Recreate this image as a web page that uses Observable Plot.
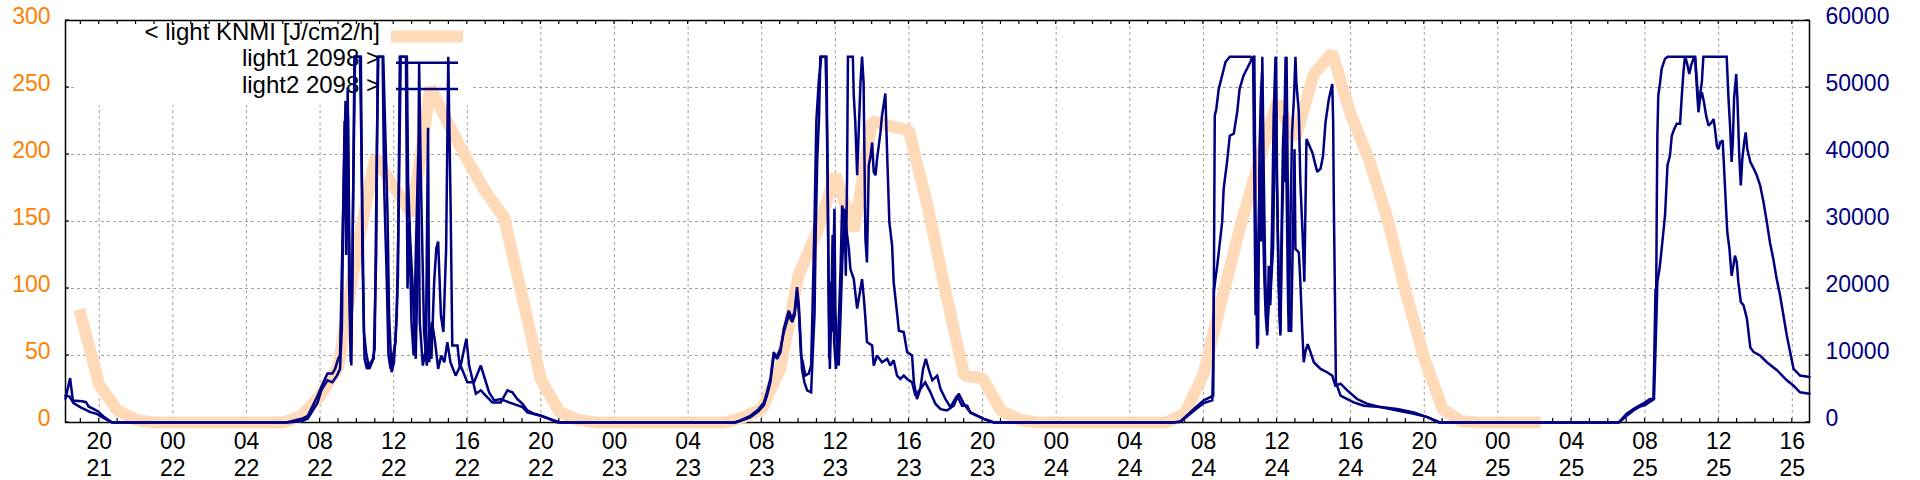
<!DOCTYPE html>
<html><head><meta charset="utf-8">
<script src="https://cdn.jsdelivr.net/npm/d3@7"></script>
<script src="https://cdn.jsdelivr.net/npm/@observablehq/plot@0.6"></script>
<style>body{margin:0;background:#fff}svg{display:block}</style>
</head><body><div id="chart"></div>
<script>
const parse = d3.utcParse("%d %H:%M");

// x extent of the plot and its tick labels (hour / day)
const xDomain = ["21 18:10", "25 16:56"];
const yTicksLeft = [0, 50, 100, 150, 200, 250, 300];
const rightPerLeft = 200; // 60000 / 300

// KNMI light, hourly from 21 19:00 [J/cm2/h]
const knmiStart = "21 19:00";
const knmiValues = [
  80, 28, 9, 2, 0,
  0, 0, 0, 0, 0, 0, 0, 5, 20, 42, 128, 198, 176, 155, 250, 222, 196, 172, 153, 93, 32, 8, 2, 0,
  0, 0, 0, 0, 0, 0, 0, 4, 10, 40, 110, 142, 185, 143, 225, 221, 218, 162, 97, 35, 33, 9, 2, 0,
  0, 0, 0, 0, 0, 0, 0, 7, 36, 92, 146, 194, 239, 212, 260, 276, 230, 196, 152, 97, 48, 10, 1, 0,
  0, 0, 0
];

const light1 = [
  ["21 18:10",3530],["21 18:25",6620],["21 18:34",3280],["21 19:04",3180],["21 19:17",3030],["21 19:25",2390],["21 19:47",1890],["21 19:55",1690],["21 20:14",900],["21 20:41",50],["21 20:50",0],
  ["22 06:10",0],["22 07:00",550],["22 07:20",1000],["22 07:52",4000],["22 08:04",5300],["22 08:24",7300],["22 08:40",7300],["22 08:49",8000],["22 08:59",9500],["22 09:05",10000],["22 09:13",27000],["22 09:18",38000],["22 09:23",48000],["22 09:27",38000],["22 09:31",46000],["22 09:38",16000],["22 09:42",8500],["22 09:47",31000],["22 09:54",54600],["22 10:10",54600],["22 10:16",38000],["22 10:23",13500],["22 10:30",10500],["22 10:40",8000],["22 10:50",9000],["22 10:58",11000],["22 11:05",41000],["22 11:10",54600],["22 11:26",54600],["22 11:31",46000],["22 11:40",31000],["22 11:45",16000],["22 11:53",7500],["22 12:01",9000],["22 12:10",16000],["22 12:16",31000],["22 12:23",54600],["22 12:43",54600],["22 12:47",36000],["22 12:53",28000],["22 13:01",21000],["22 13:12",9500],["22 13:17",21000],["22 13:23",53500],["22 13:28",38000],["22 13:39",13500],["22 13:48",8500],["22 13:55",13500],["22 14:03",9500],["22 14:12",21000],["22 14:19",26000],["22 14:25",27000],["22 14:34",16000],["22 14:42",13500],["22 14:51",26000],["22 14:58",54600],["22 15:06",31000],["22 15:11",11500],["22 15:28",11500],["22 15:36",8000],["22 15:50",11000],["22 15:57",12500],["22 16:06",8500],["22 16:28",4300],["22 16:44",4800],["22 17:00",4000],["22 17:22",3000],["22 17:49",3000],["22 18:11",4800],["22 18:27",4500],["22 18:43",3500],["22 19:00",2800],["22 19:16",1800],["22 19:38",1300],["22 20:00",1000],["22 20:27",550],["22 20:54",0],
  ["23 06:30",0],["23 06:50",300],["23 07:23",1000],["23 07:50",2000],["23 08:07",3000],["23 08:17",4500],["23 08:28",6500],["23 08:39",10500],["23 08:50",9500],["23 09:01",10500],["23 09:12",14000],["23 09:28",16700],["23 09:39",15500],["23 09:47",16500],["23 09:55",20200],["23 10:01",17500],["23 10:08",11000],["23 10:11",8000],["23 10:19",6000],["23 10:28",4800],["23 10:41",4500],["23 10:47",11000],["23 10:52",16000],["23 10:56",28400],["23 11:01",39400],["23 11:07",45800],["23 11:11",54600],["23 11:28",54600],["23 11:31",48800],["23 11:35",35900],["23 11:40",9500],["23 11:44",21000],["23 11:49",13500],["23 11:57",31900],["23 12:00",17000],["23 12:05",11000],["23 12:11",8500],["23 12:17",16000],["23 12:22",23400],["23 12:30",31900],["23 12:34",21900],["23 12:38",35900],["23 12:41",54600],["23 12:57",54600],["23 13:00",48800],["23 13:05",44800],["23 13:11",36900],["23 13:16",43300],["23 13:22",50800],["23 13:27",54600],["23 13:32",50800],["23 13:38",27400],["23 13:43",23900],["23 13:47",33400],["23 13:49",38400],["23 13:55",39800],["23 14:00",41800],["23 14:05",37400],["23 14:11",36900],["23 14:16",39400],["23 14:27",43300],["23 14:32",45800],["23 14:38",47600],["23 14:43",49100],["23 14:49",39800],["23 14:56",29900],["23 15:05",26400],["23 15:10",21000],["23 15:22",16000],["23 15:27",13700],["23 15:43",13500],["23 15:54",10500],["23 16:10",10000],["23 16:16",6000],["23 16:26",3500],["23 16:37",5000],["23 16:46",8000],["23 16:55",9500],["23 17:05",7800],["23 17:16",6300],["23 17:32",7000],["23 17:43",5000],["23 17:59",3500],["23 18:15",2300],["23 18:37",4000],["23 18:53",2500],["23 19:10",2500],["23 19:20",1500],["23 20:04",550],["23 20:37",0],
  ["24 06:20",0],["24 06:45",150],["24 07:28",2000],["24 08:01",3300],["24 08:32",4000],["24 08:34",20000],["24 08:37",45800],["24 08:42",46800],["24 08:50",49800],["24 09:01",51800],["24 09:12",53800],["24 09:26",54600],["24 10:33",54600],["24 10:42",54000],["24 10:46",35900],["24 10:50",16000],["24 10:55",26000],["24 10:58",11500],["24 11:03",40800],["24 11:07",48300],["24 11:11",52300],["24 11:15",28400],["24 11:19",21000],["24 11:23",16000],["24 11:28",13000],["24 11:33",23400],["24 11:38",17500],["24 11:44",29900],["24 11:49",45800],["24 11:55",54600],["24 11:58",40800],["24 12:02",29900],["24 12:08",16000],["24 12:11",13000],["24 12:17",30900],["24 12:22",39900],["24 12:28",54600],["24 12:31",35900],["24 12:35",21000],["24 12:38",13500],["24 12:44",30900],["24 12:49",43300],["24 12:55",48300],["24 13:00",54600],["24 13:03",50800],["24 13:11",46300],["24 13:16",35900],["24 13:23",28400],["24 13:29",21000],["24 13:36",42300],["24 13:55",40300],["24 14:11",37400],["24 14:22",37900],["24 14:30",39800],["24 14:38",44800],["24 14:49",48300],["24 15:00",50500],["24 15:03",44800],["24 15:05",33400],["24 15:08",21900],["24 15:12",6000],["24 15:27",4000],["24 15:49",3500],["24 16:10",3000],["24 16:43",2500],["24 17:37",2300],["24 18:32",2000],["24 19:26",1500],["24 20:10",800],["24 20:42",150],["24 20:50",0],
  ["25 06:33",0],["25 07:00",1300],["25 07:22",2000],["25 07:44",2600],["25 08:00",3000],["25 08:16",3500],["25 08:27",3500],["25 08:30",10000],["25 08:34",20000],["25 08:36",18000],["25 08:38",31900],["25 08:40",42800],["25 08:43",48800],["25 08:49",50800],["25 08:54",52800],["25 09:05",54300],["25 09:14",54600],["25 10:43",54600],["25 10:49",49800],["25 10:54",46300],["25 10:59",48300],["25 11:05",49300],["25 11:12",47800],["25 11:19",45800],["25 11:27",44300],["25 11:37",44800],["25 11:43",45300],["25 11:48",43800],["25 11:54",41300],["25 11:59",40800],["25 12:05",41800],["25 12:13",42100],["25 12:17",38400],["25 12:24",31900],["25 12:28",28400],["25 12:35",25900],["25 12:42",21900],["25 12:48",23400],["25 12:53",24900],["25 12:59",23900],["25 13:04",20900],["25 13:12",18000],["25 13:21",17500],["25 13:32",15500],["25 13:43",11200],["25 13:54",10500],["25 14:15",10000],["25 14:37",9000],["25 15:10",7800],["25 15:42",6300],["25 16:04",5500],["25 16:25",4500],["25 16:56",4300]
];

const light2 = [
  ["21 18:10",4030],["21 18:23",3880],["21 18:36",2890],["21 18:58",2290],["21 19:31",1540],["21 19:52",1290],["21 20:14",700],["21 20:41",0],
  ["22 06:15",0],["22 07:00",200],["22 07:20",600],["22 07:52",3000],["22 08:04",4800],["22 08:24",6300],["22 08:40",6000],["22 08:55",7000],["22 09:05",8000],["22 09:11",14000],["22 09:15",30000],["22 09:20",45000],["22 09:25",25000],["22 09:30",50000],["22 09:35",20000],["22 09:40",9000],["22 09:45",20000],["22 09:52",54600],["22 10:13",54600],["22 10:18",25000],["22 10:25",9500],["22 10:33",8000],["22 10:45",9000],["22 10:55",9500],["22 11:03",25000],["22 11:08",54600],["22 11:24",54600],["22 11:29",35000],["22 11:37",22000],["22 11:43",10000],["22 11:50",8000],["22 11:58",10000],["22 12:06",12000],["22 12:14",22000],["22 12:20",54600],["22 12:40",54600],["22 12:45",20000],["22 12:51",30000],["22 12:58",15000],["22 13:05",10000],["22 13:12",25000],["22 13:20",40000],["22 13:25",15000],["22 13:35",8500],["22 13:45",11000],["22 13:49",30000],["22 13:52",44000],["22 13:56",9000],["22 14:05",15000],["22 14:15",12000],["22 14:25",8000],["22 14:35",10000],["22 14:45",9000],["22 14:55",12000],["22 15:05",9000],["22 15:22",7000],["22 15:38",8500],["22 16:00",6000],["22 16:22",6000],["22 16:44",8500],["22 17:11",4500],["22 17:28",3300],["22 17:49",3500],["22 18:16",3000],["22 19:00",2300],["22 19:16",1500],["22 20:00",1000],["22 20:43",300],["22 21:05",0],
  ["23 06:35",0],["23 06:50",200],["23 07:23",800],["23 07:50",1700],["23 08:07",2600],["23 08:17",4000],["23 08:28",6000],["23 08:39",9800],["23 08:50",10000],["23 09:01",11000],["23 09:12",13500],["23 09:28",16000],["23 09:39",15000],["23 09:47",16000],["23 09:55",19500],["23 10:01",16500],["23 10:08",10000],["23 10:14",9000],["23 10:22",7000],["23 10:33",7300],["23 10:41",8500],["23 10:45",16000],["23 10:52",30000],["23 10:58",45000],["23 11:06",51000],["23 11:14",54600],["23 11:31",54600],["23 11:34",40000],["23 11:38",20000],["23 11:42",8000],["23 11:46",15000],["23 11:51",28000],["23 11:56",12000],["23 12:02",8000],["23 12:08",11000],["23 12:17",22900],["23 12:22",32400],["23 12:33",29900],["23 12:44",25900],["23 12:49",22900],["23 13:00",21400],["23 13:11",17000],["23 13:22",20000],["23 13:27",21400],["23 13:33",18500],["23 13:38",15500],["23 13:43",12000],["23 14:00",11500],["23 14:05",8500],["23 14:16",10000],["23 14:32",9000],["23 14:49",9500],["23 14:59",8500],["23 15:10",9300],["23 15:21",7000],["23 15:32",6500],["23 15:43",7000],["23 15:54",6500],["23 16:10",6000],["23 16:21",4000],["23 16:37",5000],["23 16:53",6000],["23 17:10",4500],["23 17:26",2800],["23 17:43",2000],["23 18:04",1800],["23 18:26",2500],["23 18:42",4300],["23 18:59",2800],["23 19:20",1500],["23 20:04",550],["23 20:37",0],
  ["24 06:25",0],["24 06:45",100],["24 07:28",1700],["24 08:01",2900],["24 08:29",3300],["24 08:32",9500],["24 08:34",19500],["24 08:39",21400],["24 08:45",23400],["24 09:01",29900],["24 09:06",34900],["24 09:17",38900],["24 09:26",42800],["24 09:39",43100],["24 09:50",46300],["24 09:58",49800],["24 10:11",51800],["24 10:33",53800],["24 10:42",54600],["24 10:46",54600],["24 10:50",30900],["24 10:55",11000],["24 10:59",26000],["24 11:04",38400],["24 11:08",27000],["24 11:12",54600],["24 11:17",35900],["24 11:22",21000],["24 11:28",13500],["24 11:33",17500],["24 11:38",18500],["24 11:47",26000],["24 11:53",43300],["24 11:57",54600],["24 12:00",35900],["24 12:05",21000],["24 12:11",13500],["24 12:14",26000],["24 12:19",40800],["24 12:23",45800],["24 12:25",35900],["24 12:31",54600],["24 12:35",35900],["24 12:40",16000],["24 12:46",13500],["24 12:51",26000],["24 12:57",40800],["24 13:00",25900],["24 13:11",25400],["24 13:16",21000],["24 13:22",14000],["24 13:27",9000],["24 13:33",10700],["24 13:40",11700],["24 13:49",10500],["24 14:00",9000],["24 14:22",8000],["24 14:43",7500],["24 15:00",7000],["24 15:10",5500],["24 15:27",5800],["24 15:49",4800],["24 16:21",3500],["24 16:53",2800],["24 17:37",2300],["24 18:32",1800],["24 19:26",1300],["24 20:10",800],["24 20:42",150],["24 20:50",0],
  ["25 06:35",0],["25 07:00",1000],["25 07:22",1800],["25 07:44",2400],["25 08:00",2600],["25 08:16",3100],["25 08:29",3500],["25 08:33",9500],["25 08:36",14000],["25 08:40",21000],["25 08:47",22900],["25 08:54",25900],["25 09:05",30900],["25 09:13",38400],["25 09:21",39800],["25 09:27",42800],["25 09:35",43800],["25 09:43",44600],["25 09:54",44600],["25 09:59",48300],["25 10:05",52300],["25 10:10",54600],["25 10:16",53800],["25 10:24",52000],["25 10:30",53300],["25 10:38",54300],["25 10:43",54600],["25 10:49",50800],["25 10:54",47300],["25 10:59",48800],["25 11:05",50800],["25 11:10",54600],["25 12:26",54600],["25 12:32",48300],["25 12:37",44300],["25 12:42",38900],["25 12:46",41800],["25 12:50",48300],["25 12:57",52000],["25 13:01",48300],["25 13:07",39800],["25 13:12",35400],["25 13:17",39400],["25 13:23",41800],["25 13:28",43300],["25 13:33",40800],["25 13:43",38900],["25 13:54",37900],["25 14:04",36900],["25 14:15",35400],["25 14:26",32900],["25 14:37",29900],["25 14:47",26900],["25 14:58",24400],["25 15:09",21400],["25 15:20",19000],["25 15:31",16000],["25 15:42",13000],["25 15:53",10500],["25 16:04",8000],["25 16:15",7500],["25 16:25",7000],["25 16:56",6800]
];

const legendLabels = ["< light KNMI [J/cm2/h]", "light1 2098 >", "light2 2098 >"];
const colors = {knmi: "#ffdab9", sensor: "#000080", leftAxis: "#ff8000", grid: "#a0a0a0"};

const x0 = parse(xDomain[0]), x1 = parse(xDomain[1]);
const t0 = parse(knmiStart);
const knmi = knmiValues.map((v, i) => ({t: d3.utcHour.offset(t0, i), v}));
const s1 = light1.map(([t, v]) => ({t: parse(t), v}));
const s2 = light2.map(([t, v]) => ({t: parse(t), v}));
const xTicks = d3.utcHour.every(4).range(x0, x1);
const fmtH = d3.utcFormat("%H"), fmtD = d3.utcFormat("%d");

const FONT = "Liberation Sans, Arial, sans-serif";

// decorative helpers (use Plot's dimensions)
const legendBox = (i, s, v, dim) =>
  d3.create("svg:rect").attr("x", dim.marginLeft + 10).attr("y", dim.marginTop + 1)
    .attr("width", 398).attr("height", 84).attr("fill", "#fff").node();

const tickMarks = (i, {x, y}, v, dim) => {
  const g = d3.create("svg:g").attr("stroke", "#000").attr("stroke-width", 1.2);
  const t = dim.marginTop, b = dim.height - dim.marginBottom, l = dim.marginLeft, r = dim.width - dim.marginRight;
  for (const h of d3.utcHour.range(x0, x1)) {
    const px = x(h);
    g.append("line").attr("x1", px).attr("x2", px).attr("y1", b).attr("y2", b - 4);
    g.append("line").attr("x1", px).attr("x2", px).attr("y1", t).attr("y2", t + 4);
  }
  for (const yv of yTicksLeft) {
    const py = y(yv);
    g.append("line").attr("x1", l).attr("x2", l + 4).attr("y1", py).attr("y2", py);
    g.append("line").attr("x1", r - 4).attr("x2", r).attr("y1", py).attr("y2", py);
  }
  return g.node();
};

const legendTexts = (i, s, v, dim) => {
  const g = d3.create("svg:g").attr("font-family", FONT).attr("font-size", 24).attr("text-anchor", "end").attr("fill", "#000");
  legendLabels.forEach((lab, k) => g.append("text").attr("x", dim.marginLeft + 315).attr("y", dim.marginTop + 19.5 + k * 26.5).text(lab));
  return g.node();
};
const legendSample = (k, color, width, cap) => (i, s, v, dim) =>
  d3.create("svg:line").attr("x1", dim.marginLeft + (k === 0 ? 332 : 331)).attr("x2", dim.marginLeft + (k === 0 ? 392 : 393))
    .attr("y1", dim.marginTop + 16.5 + k * 26.3).attr("y2", dim.marginTop + 16.5 + k * 26.3)
    .attr("stroke", color).attr("stroke-width", width).attr("stroke-linecap", cap).node();

const chart = Plot.plot({
  width: 1920, height: 480,
  marginLeft: 65, marginRight: 111, marginTop: 20, marginBottom: 58,
  style: {fontFamily: FONT, fontSize: "22px", background: "#fff", overflow: "visible"},
  x: {type: "utc", domain: [x0, x1]},
  y: {domain: [0, 300]},
  marks: [
    Plot.ruleX(xTicks, {stroke: colors.grid, strokeWidth: 1, strokeDasharray: "3,3"}),
    Plot.ruleY(yTicksLeft, {stroke: colors.grid, strokeWidth: 1, strokeDasharray: "3,3"}),
    legendBox,
    Plot.frame({stroke: "#000", strokeWidth: 1.5}),
    tickMarks,
    legendTexts,
    legendSample(0, colors.knmi, 12, "square"),
    Plot.line(knmi, {x: "t", y: "v", stroke: colors.knmi, strokeWidth: 12, strokeLinecap: "square", strokeLinejoin: "bevel"}),
    legendSample(1, colors.sensor, 2.5, "butt"),
    Plot.line(s1, {x: "t", y: d => d.v / rightPerLeft, stroke: colors.sensor, strokeWidth: 2.5, strokeLinejoin: "miter", strokeMiterlimit: 2}),
    legendSample(2, colors.sensor, 2.5, "butt"),
    Plot.line(s2, {x: "t", y: d => d.v / rightPerLeft, stroke: colors.sensor, strokeWidth: 2.5, strokeLinejoin: "miter", strokeMiterlimit: 2}),
    Plot.axisY({anchor: "left", ticks: yTicksLeft, tickSize: 0, tickPadding: 15, color: colors.leftAxis, fontSize: 23, dy: -4, label: null}),
    Plot.axisY({anchor: "right", ticks: yTicksLeft, tickFormat: d => String(d * rightPerLeft), tickSize: 0, tickPadding: 16, color: colors.sensor, fontSize: 23, dy: -4, label: null}),
    Plot.axisX({anchor: "bottom", ticks: xTicks, tickFormat: d => fmtH(d) + "\n" + fmtD(d), tickSize: 0, tickPadding: 8, fontSize: 23, lineHeight: 1.15, color: "#000", label: null})
  ]
});
document.getElementById("chart").appendChild(chart);
</script>
</body></html>
